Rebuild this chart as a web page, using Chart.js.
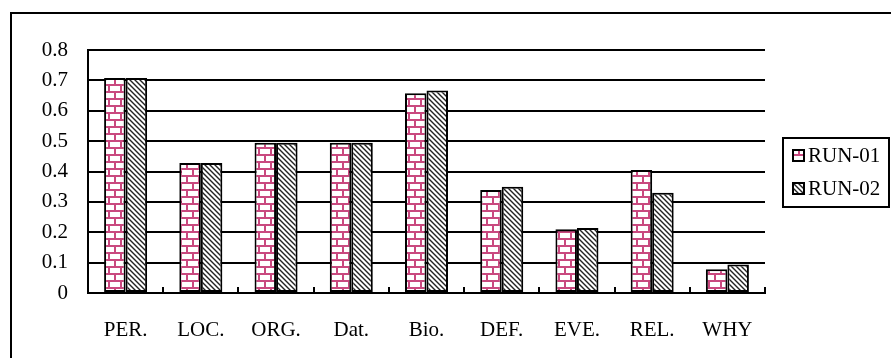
<!DOCTYPE html>
<html>
<head>
<meta charset="utf-8">
<script src="https://cdn.jsdelivr.net/npm/chart.js@4/dist/chart.umd.min.js"></script>
<style>
  html, body { margin: 0; padding: 0; background: #fff; }
  #wrap { width: 891px; height: 358px; }
</style>
</head>
<body>
<div id="wrap"><canvas id="chart" width="891" height="358"></canvas></div>
<script>
const categories = ['PER.', 'LOC.', 'ORG.', 'Dat.', 'Bio.', 'DEF.', 'EVE.', 'REL.', 'WHY'];
const run01 = [0.708, 0.428, 0.495, 0.495, 0.658, 0.339, 0.210, 0.405, 0.078];
const run02 = [0.708, 0.428, 0.495, 0.495, 0.667, 0.350, 0.214, 0.330, 0.094];
const seriesNames = ['RUN-01', 'RUN-02'];
const yTicks = [0, 0.1, 0.2, 0.3, 0.4, 0.5, 0.6, 0.7, 0.8];

const FONT = '"Liberation Serif", "DejaVu Serif", serif';

// brick fill for RUN-01
function brickPattern() {
    const c = document.createElement('canvas');
    c.width = 12; c.height = 14;
    const g = c.getContext('2d');
    g.fillStyle = '#fff';
    g.fillRect(0, 0, 12, 14);
    g.fillStyle = '#c9497f';
    g.fillRect(0, 0, 12, 2);
    g.fillRect(0, 7, 12, 2);
    g.fillRect(0, 0, 2, 7);
    g.fillRect(6, 7, 2, 7);
    return g.createPattern(c, 'repeat');
}

// diagonal hatch for RUN-02
function hatchPattern() {
    const c = document.createElement('canvas');
    c.width = 5; c.height = 5;
    const g = c.getContext('2d');
    g.fillStyle = '#fff';
    g.fillRect(0, 0, 5, 5);
    g.strokeStyle = '#222';
    g.lineWidth = 1.4;
    g.beginPath();
    g.moveTo(-1, -1); g.lineTo(6, 6);
    g.moveTo(-1, 4); g.lineTo(1, 6);
    g.moveTo(4, -1); g.lineTo(6, 1);
    g.stroke();
    return g.createPattern(c, 'repeat');
}

const fills = [brickPattern(), hatchPattern()];

const framePlugin = {
    id: 'frame',
    afterDraw(chart) {
        const ctx = chart.ctx;
        const area = chart.chartArea;
        ctx.save();
        // outer frame (runs off the right and bottom edges)
        ctx.strokeStyle = '#000';
        ctx.lineWidth = 2;
        ctx.strokeRect(11, 13, 900, 400);

        // small upward ticks between categories
        const step = (area.right - area.left) / categories.length;
        ctx.beginPath();
        for (let i = 1; i <= categories.length; i++) {
            const x = Math.round(area.left + i * step);
            ctx.moveTo(x, area.bottom);
            ctx.lineTo(x, area.bottom - 6);
        }
        ctx.stroke();

        // legend box
        ctx.strokeRect(783, 138, 106, 69);
        ctx.font = '21px ' + FONT;
        ctx.textBaseline = 'middle';
        ctx.textAlign = 'left';
        seriesNames.forEach((name, i) => {
            const y = 155 + i * 33;
            ctx.fillStyle = fills[i];
            ctx.fillRect(793, y - 5, 11, 11);
            ctx.lineWidth = 2;
            ctx.strokeRect(793, y - 5, 11, 11);
            ctx.fillStyle = '#000';
            ctx.fillText(name, 808, y + 1);
        });
        ctx.restore();
    }
};

new Chart(document.getElementById('chart'), {
    type: 'bar',
    data: {
        labels: categories,
        datasets: [
            { label: seriesNames[0], data: run01, backgroundColor: fills[0], borderColor: '#000', borderWidth: 2, borderSkipped: false },
            { label: seriesNames[1], data: run02, backgroundColor: fills[1], borderColor: '#000', borderWidth: 2, borderSkipped: false }
        ]
    },
    options: {
        responsive: false,
        animation: false,
        layout: { padding: { left: 0, top: 50, right: 126, bottom: 0 } },
        datasets: { bar: { categoryPercentage: 0.572, barPercentage: 1.0 } },
        plugins: {
            legend: { display: false },
            tooltip: { enabled: false }
        },
        scales: {
            x: {
                grid: { display: false },
                border: { display: true, color: '#000', width: 2 },
                ticks: { color: '#000', font: { family: FONT, size: 21 }, padding: 17, maxRotation: 0 },
                afterFit: s => { s.height = 65; }
            },
            y: {
                min: 0,
                max: 0.8,
                afterBuildTicks: s => { s.ticks = yTicks.map(v => ({ value: v })); },
                grid: { color: '#000', lineWidth: 2, drawTicks: false },
                border: { display: true, color: '#000', width: 2 },
                ticks: {
                    color: '#000',
                    font: { family: FONT, size: 21 },
                    padding: 20,
                    callback: v => v === 0 ? '0' : v.toFixed(1)
                },
                afterFit: s => { s.width = 88; }
            }
        }
    },
    plugins: [framePlugin]
});
</script>
</body>
</html>
